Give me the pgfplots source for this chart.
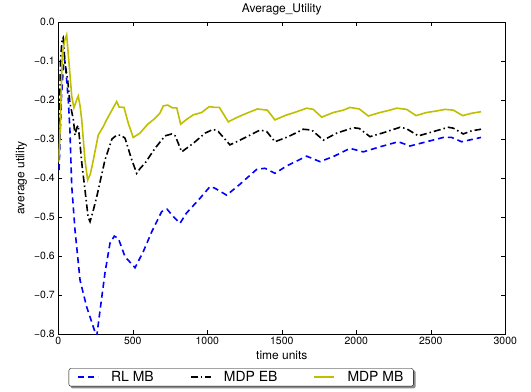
\documentclass[border=0pt]{standalone}
\usepackage{fontspec}
\setmainfont{TeX Gyre Heros}
\usepackage{pgfplots}
\pgfplotsset{compat=1.18}
\pgfdeclarelayer{background}
\pgfsetlayers{background,main}
\definecolor{myyel}{HTML}{BFBF00}
\begin{document}
\begin{tikzpicture}
\begin{axis}[name=ax,
  scale only axis, width=447bp, height=312bp,
  xmin=0, xmax=3000, ymin=-0.8, ymax=0,
  tick align=inside, xtick pos=both, ytick pos=both,
  major tick length=4bp,
  tick style={black, line width=0.6bp},
  axis line style={line width=0.8bp},
  xtick={0,500,1000,1500,2000,2500,3000},
  xticklabels={0,500,1000,1500,2000,2500,3000},
  ytick={-0.8,-0.7,-0.6,-0.5,-0.4,-0.3,-0.2,-0.1,0},
  yticklabels={−0.8,−0.7,−0.6,−0.5,−0.4,−0.3,−0.2,−0.1,0.0},
  ticklabel style={font=\fontsize{10.5}{12}\selectfont},
  title={Average\_Utility},
  title style={font=\fontsize{12}{14}\selectfont, at={(axis description cs:0.5,1.045)}, anchor=center, yshift=-7bp},
  xlabel={time units},
  xlabel style={font=\fontsize{12}{14}\selectfont, at={(axis description cs:0.5,-0.067)}, anchor=center},
  ylabel={average utility},
  ylabel style={font=\fontsize{12}{14}\selectfont, at={(axis description cs:-0.083,0.5)}, anchor=center},
  legend columns=3,
  legend image code/.code={\draw[#1, line width=2.2bp] (0bp,0.5bp) -- (20bp,0.5bp);},
  legend style={name=leg, at={(0.409,-0.139)}, anchor=center, draw=black,
    rounded corners=2bp, fill=white,
    font=\fontsize{14}{16}\selectfont, inner xsep=8bp, inner ysep=1bp,
    /tikz/every odd column/.append style={column sep=10bp},
    /tikz/every even column/.append style={column sep=34bp}},
]
\addplot[blue, line width=1.6bp, dash pattern=on 6bp off 4bp] coordinates {
(5,-0.38) (20,-0.2) (35,-0.11) (42,-0.095) (50,-0.12) (67,-0.2) (78,-0.277) (90,-0.42)
(112,-0.533) (146,-0.662) (190,-0.73) (242,-0.79) (258,-0.805) (280,-0.74) (313,-0.644)
(347,-0.567) (376,-0.549) (403,-0.555) (448,-0.602) (515,-0.630) (570,-0.589) (627,-0.538)
(694,-0.486) (730,-0.48) (772,-0.499) (817,-0.516) (860,-0.49) (951,-0.452) (1018,-0.422)
(1050,-0.426) (1130,-0.444) (1219,-0.416) (1331,-0.378) (1387,-0.375) (1454,-0.388)
(1533,-0.369) (1667,-0.344) (1756,-0.358) (1846,-0.345) (1958,-0.324) (2047,-0.333)
(2159,-0.320) (2282,-0.307) (2360,-0.318) (2472,-0.307) (2584,-0.296) (2640,-0.296)
(2707,-0.307) (2837,-0.296)
};
\addlegendentry{RL MB}
\addplot[black, line width=1.6bp, dash pattern=on 7bp off 3bp on 1.5bp off 3bp] coordinates {
(5,-0.30) (15,-0.10) (25,-0.045) (33,-0.04) (45,-0.106) (63,-0.149) (78,-0.208) (101,-0.25)
(112,-0.29) (125,-0.27) (134,-0.265) (145,-0.31) (160,-0.37) (179,-0.43) (200,-0.50)
(213,-0.512) (230,-0.49) (258,-0.448) (313,-0.354) (360,-0.30) (392,-0.29) (420,-0.29)
(448,-0.298) (490,-0.35) (526,-0.388) (550,-0.375) (582,-0.362) (649,-0.324) (716,-0.292)
(761,-0.287) (785,-0.292) (828,-0.333) (906,-0.311) (985,-0.285) (1040,-0.275) (1074,-0.281)
(1152,-0.315) (1219,-0.303) (1287,-0.29) (1354,-0.277) (1399,-0.281) (1454,-0.307)
(1544,-0.294) (1644,-0.275) (1701,-0.277) (1779,-0.303) (1868,-0.285) (1980,-0.271)
(2020,-0.273) (2092,-0.294) (2181,-0.284) (2293,-0.270) (2334,-0.273) (2417,-0.292)
(2517,-0.281) (2617,-0.270) (2650,-0.272) (2718,-0.287) (2774,-0.279) (2837,-0.275)
};
\addlegendentry{MDP EB}
\addplot[myyel, line width=1.6bp] coordinates {
(2,-0.36) (10,-0.30) (27,-0.08) (45,-0.045) (56,-0.033) (72,-0.105) (90,-0.19) (105,-0.22)
(123,-0.20) (134,-0.19) (146,-0.215) (157,-0.25) (179,-0.354) (197,-0.405) (215,-0.39)
(235,-0.354) (268,-0.29) (302,-0.268) (325,-0.25) (392,-0.204) (408,-0.218) (441,-0.219)
(470,-0.26) (503,-0.296) (548,-0.285) (600,-0.262) (640,-0.25) (680,-0.235) (705,-0.215)
(735,-0.213) (765,-0.22) (795,-0.22) (821,-0.262) (860,-0.25) (906,-0.238) (962,-0.232)
(1013,-0.217) (1052,-0.219) (1081,-0.219) (1141,-0.256) (1197,-0.245) (1264,-0.234)
(1336,-0.223) (1403,-0.226) (1454,-0.251) (1521,-0.24) (1600,-0.230) (1667,-0.221)
(1711,-0.224) (1768,-0.244) (1846,-0.232) (1913,-0.226) (1958,-0.219) (2020,-0.223)
(2081,-0.241) (2159,-0.232) (2215,-0.227) (2271,-0.221) (2338,-0.224) (2401,-0.240)
(2472,-0.232) (2540,-0.228) (2595,-0.224) (2651,-0.226) (2714,-0.240) (2774,-0.234)
(2837,-0.230)
};
\addlegendentry{MDP MB}
\end{axis}
\begin{pgfonlayer}{background}
\fill[black!45, rounded corners=2bp] ([shift={(2bp,-2bp)}]leg.south west) rectangle ([shift={(2bp,-2bp)}]leg.north east);
\end{pgfonlayer}
\pgfresetboundingbox
\path (ax.south west) ++(-58.3bp,-58bp) rectangle ++(531bp,392bp);
\end{tikzpicture}
\end{document}
